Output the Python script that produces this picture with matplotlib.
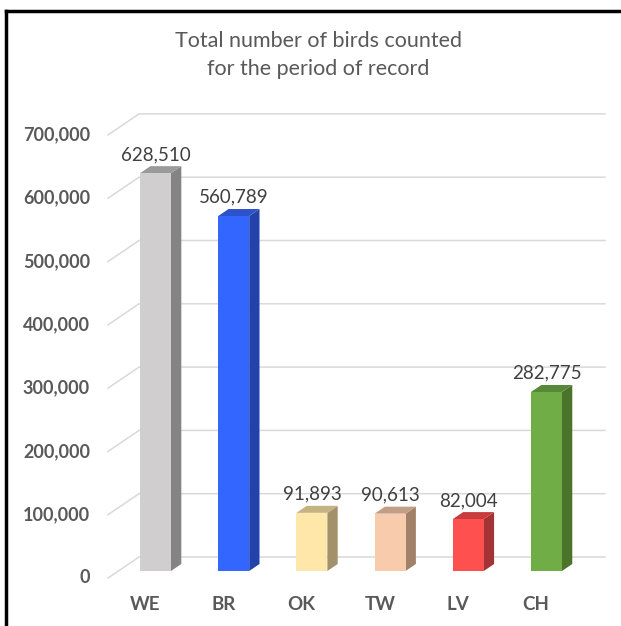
import matplotlib.pyplot as plt
from matplotlib.patches import Polygon
from matplotlib.lines import Line2D

# Data
sites = ['WE', 'BR', 'OK', 'TW', 'LV', 'CH']
totals = [628510, 560789, 91893, 90613, 82004, 282775]
front_colors = ['#D0CECE', '#3366FF', '#FFE6A9', '#F8CBAD', '#FF5050', '#70AD47']
side_colors = ['#848484', '#2443AA', '#A3916A', '#A28169', '#A33334', '#4B7329']
top_colors = ['#9A9A9A', '#2C52CC', '#C4B282', '#C29E86', '#C83C3D', '#578A38']
y_ticks = [0, 100000, 200000, 300000, 400000, 500000, 600000, 700000]

plt.rcParams['font.family'] = ['Lato', 'DejaVu Sans']

fig = plt.figure(figsize=(6.21, 6.26), dpi=100)
ax = fig.add_axes([100 / 621, 36 / 626, 512 / 621, 485 / 626])
ax.set_xlim(-0.710, 5.838)
ax.set_ylim(-30016, 736177)
ax.axis('off')

# fake 3d: depth 0 = front of floor, 1 = back wall
DX = 0.396
DY = 33175
W = 0.198


def proj(x, v, d):
    return (x + (d - 1 / 3) * DX, v + (d - 1 / 3) * DY)


x_wall = -0.475
x_right = 5.484
grid_col = '#D9D9D9'
for v in y_ticks:
    p0 = proj(x_wall, v, 0)
    p1 = proj(x_wall, v, 1)
    p2 = proj(x_right, v, 1)
    ax.plot([p0[0], p1[0], p2[0]], [p0[1], p1[1], p2[1]], color=grid_col, lw=1.1, zorder=1)
    ax.text(p0[0] - 0.23, p0[1], f'{v:,}', ha='right', va='center',
            fontsize=13, fontweight='bold', color='#595959')

# Bars
for i, (val, fc, sc, tc) in enumerate(zip(totals, front_colors, side_colors, top_colors)):
    ax.bar(i, val, width=2 * W, color=fc, zorder=3)
    side = [proj(i + W, 0, 1 / 3), proj(i + W, val, 1 / 3),
            proj(i + W, val, 2 / 3), proj(i + W, 0, 2 / 3)]
    top = [proj(i - W, val, 1 / 3), proj(i + W, val, 1 / 3),
           proj(i + W, val, 2 / 3), proj(i - W, val, 2 / 3)]
    ax.add_patch(Polygon(side, closed=True, color=sc, lw=0, zorder=2))
    ax.add_patch(Polygon(top, closed=True, color=tc, lw=0, zorder=2))
    ax.annotate(f'{val:,}', (i, val), xytext=(0, 9.5), textcoords='offset points',
                ha='center', va='baseline', fontsize=13.5, color='#404040', zorder=4)
    lx, ly = proj(i, 0, 0)
    ax.text(lx, -52900, sites[i], ha='center', va='center', fontsize=13.5,
            fontweight='bold', color='#595959', clip_on=False)

# Title
fig.text(318 / 621, 1 - 75 / 626, 'Total number of birds counted\nfor the period of record',
         ha='center', va='baseline', fontsize=15.5, color='#595959', linespacing=1.5)

# black frame on top and left
fig.add_artist(Line2D([6 / 621, 1], [1 - 11 / 626, 1 - 11 / 626], color='black', lw=2.5))
fig.add_artist(Line2D([6 / 621, 6 / 621], [0, 1 - 11 / 626], color='black', lw=2.5))

fig.savefig('out.png', dpi=100)
